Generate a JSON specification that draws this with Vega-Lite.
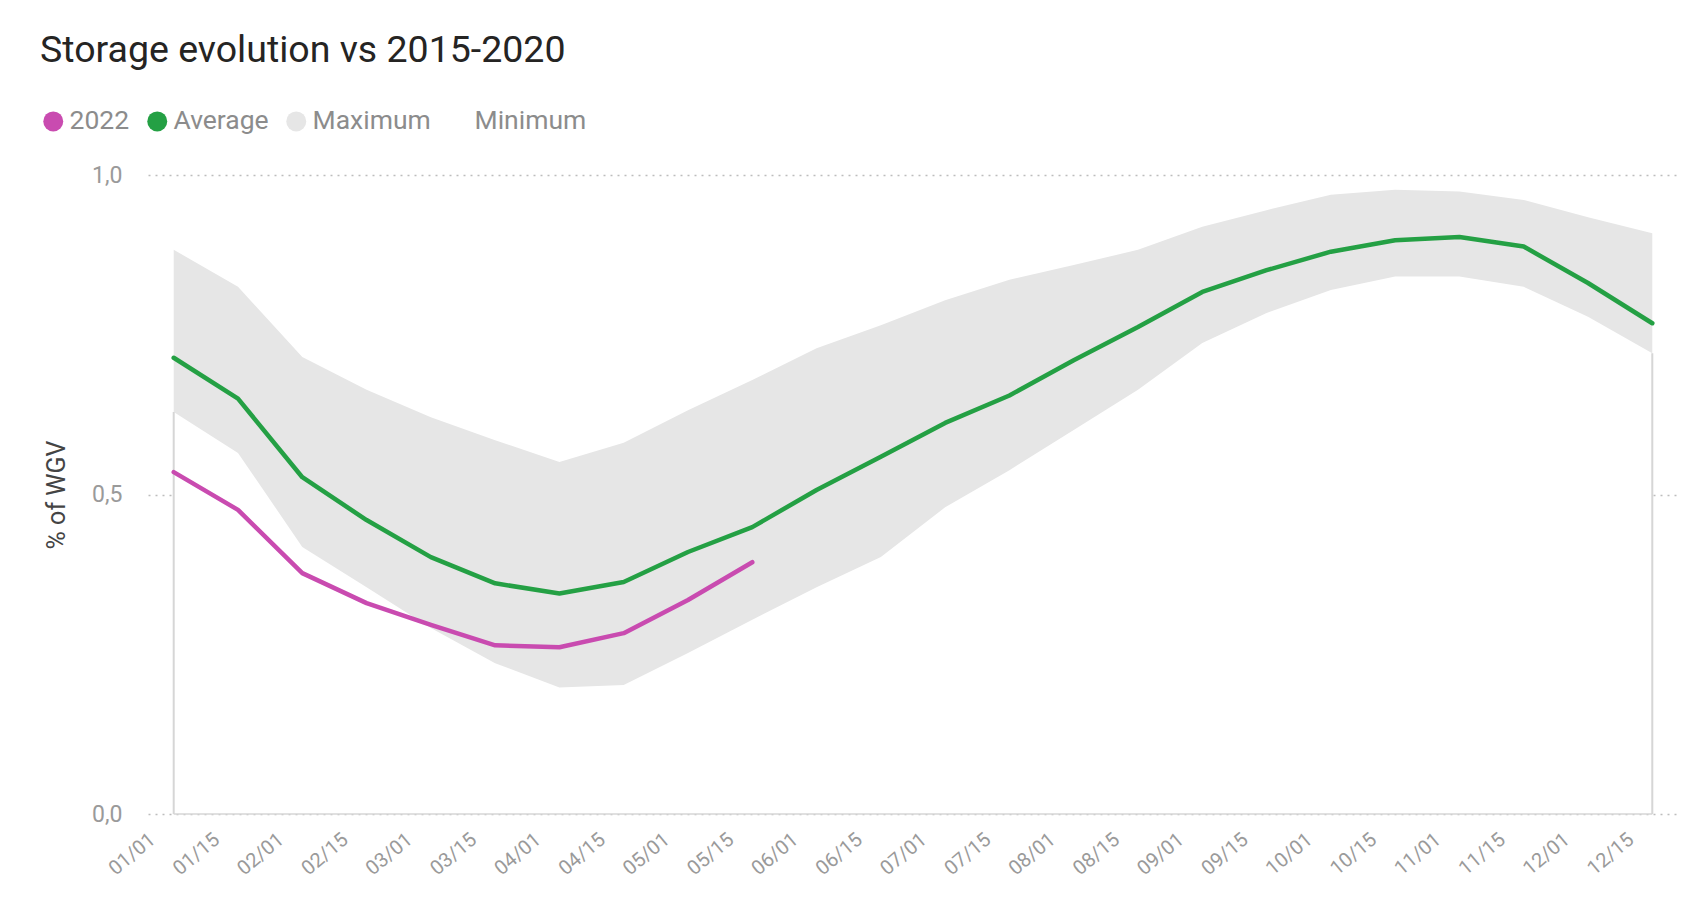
{
  "$schema": "https://vega.github.io/schema/vega-lite/v6.json",
  "autosize": "none",
  "width": 1530,
  "height": 639,
  "padding": {"left": 148, "top": 175, "right": 28, "bottom": 84},
  "background": "white",
  "config": {"view": {"stroke": null}},
  "title": {
    "text": "Storage evolution vs 2015-2020",
    "anchor": "start",
    "frame": "group",
    "dx": -108,
    "offset": 39,
    "fontSize": 37.5,
    "font": "Roboto",
    "fontWeight": "normal",
    "color": "#252423"
  },
  "data": {
    "values": [
      {"d": "01/01", "y2022": 0.535, "avg": 0.714, "max": 0.883, "min": 0.629},
      {"d": "01/15", "y2022": 0.476, "avg": 0.650, "max": 0.825, "min": 0.565},
      {"d": "02/01", "y2022": 0.377, "avg": 0.527, "max": 0.715, "min": 0.418},
      {"d": "02/15", "y2022": 0.330, "avg": 0.460, "max": 0.664, "min": 0.355},
      {"d": "03/01", "y2022": 0.296, "avg": 0.402, "max": 0.621, "min": 0.291},
      {"d": "03/15", "y2022": 0.264, "avg": 0.361, "max": 0.585, "min": 0.236},
      {"d": "04/01", "y2022": 0.261, "avg": 0.345, "max": 0.551, "min": 0.198},
      {"d": "04/15", "y2022": 0.283, "avg": 0.363, "max": 0.581, "min": 0.202},
      {"d": "05/01", "y2022": 0.335, "avg": 0.410, "max": 0.632, "min": 0.252},
      {"d": "05/15", "y2022": 0.394, "avg": 0.449, "max": 0.679, "min": 0.304},
      {"d": "06/01", "y2022": null, "avg": 0.507, "max": 0.729, "min": 0.355},
      {"d": "06/15", "y2022": null, "avg": 0.559, "max": 0.765, "min": 0.402},
      {"d": "07/01", "y2022": null, "avg": 0.612, "max": 0.804, "min": 0.480},
      {"d": "07/15", "y2022": null, "avg": 0.655, "max": 0.836, "min": 0.538},
      {"d": "08/01", "y2022": null, "avg": 0.710, "max": 0.859, "min": 0.601},
      {"d": "08/15", "y2022": null, "avg": 0.762, "max": 0.883, "min": 0.664},
      {"d": "09/01", "y2022": null, "avg": 0.817, "max": 0.919, "min": 0.737},
      {"d": "09/15", "y2022": null, "avg": 0.851, "max": 0.945, "min": 0.784},
      {"d": "10/01", "y2022": null, "avg": 0.880, "max": 0.969, "min": 0.820},
      {"d": "10/15", "y2022": null, "avg": 0.898, "max": 0.977, "min": 0.841},
      {"d": "11/01", "y2022": null, "avg": 0.903, "max": 0.974, "min": 0.841},
      {"d": "11/15", "y2022": null, "avg": 0.888, "max": 0.961, "min": 0.825},
      {"d": "12/01", "y2022": null, "avg": 0.831, "max": 0.934, "min": 0.778},
      {"d": "12/15", "y2022": null, "avg": 0.768, "max": 0.909, "min": 0.721}
    ]
  },
  "encoding": {
    "x": {
      "field": "d",
      "type": "ordinal",
      "sort": null,
      "scale": {"type": "point", "padding": 0.4},
      "axis": {
        "title": null,
        "labelAngle": -40,
        "labelFontSize": 20,
        "labelFont": "Roboto",
        "labelColor": "#9a9a9a",
        "ticks": false,
        "domain": false,
        "grid": false,
        "labelPadding": 15,
        "labelOffset": -28
      }
    }
  },
  "layer": [
    {
      "mark": {"type": "area", "interpolate": "linear", "opacity": 1},
      "encoding": {
        "y": {
          "field": "max",
          "type": "quantitative",
          "scale": {"domain": [0, 1], "nice": false},
          "axis": {
            "title": "% of WGV",
            "titleFont": "Roboto",
            "titleFontSize": 25,
            "titleFontWeight": "normal",
            "titleColor": "#444444",
            "titlePadding": 22,
            "values": [0, 0.5, 1],
            "labelExpr": "replace(format(datum.value, '.1f'), '.', ',')",
            "labelFont": "Roboto",
            "labelFontSize": 23,
            "labelColor": "#9a9a9a",
            "labelPadding": 26,
            "ticks": false,
            "domain": false,
            "grid": true,
            "gridColor": "#bdbdbd",
            "gridDash": [2, 5],
            "gridWidth": 1.3
          }
        },
        "color": {
          "datum": "Maximum",
          "scale": {
            "domain": ["2022", "Average", "Maximum", "Minimum"],
            "range": ["#c94bb0", "#24a044", "#e6e6e6", "#ffffff"]
          },
          "legend": {
            "title": null,
            "orient": "none",
            "direction": "horizontal",
            "legendX": -108,
            "legendY": -67,
            "symbolType": "circle",
            "symbolSize": 400,
            "symbolStrokeWidth": 0,
            "labelFont": "Roboto",
            "labelFontSize": 26.5,
            "labelColor": "#8c8c8c",
            "labelOffset": 3,
            "columnPadding": 14,
            "encode": {
              "symbols": {
                "update": {
                  "fill": {"scale": "color", "field": "value"},
                  "stroke": {"value": "transparent"},
                  "opacity": {"value": 1}
                }
              }
            }
          }
        }
      }
    },
    {
      "mark": {"type": "area", "interpolate": "linear", "opacity": 1},
      "encoding": {
        "y": {"field": "min", "type": "quantitative"},
        "color": {"datum": "Minimum"}
      }
    },
    {
      "mark": {"type": "line", "color": "#d6d6d6", "strokeWidth": 1.5},
      "encoding": {
        "y": {"datum": 0}
      }
    },
    {
      "transform": [{"filter": "datum.d == '01/01' || datum.d == '12/15'"}],
      "mark": {"type": "rule", "color": "#d6d6d6", "strokeWidth": 2},
      "encoding": {
        "y": {"field": "min", "type": "quantitative"},
        "y2": {"datum": 0}
      }
    },
    {
      "mark": {"type": "line", "interpolate": "linear", "strokeWidth": 4.5, "strokeJoin": "round", "strokeCap": "round"},
      "encoding": {
        "y": {"field": "avg", "type": "quantitative"},
        "color": {"datum": "Average"}
      }
    },
    {
      "transform": [{"filter": "isValid(datum.y2022)"}],
      "mark": {"type": "line", "interpolate": "linear", "strokeWidth": 4.5, "strokeJoin": "round", "strokeCap": "round"},
      "encoding": {
        "y": {"field": "y2022", "type": "quantitative"},
        "color": {"datum": "2022"}
      }
    }
  ]
}
